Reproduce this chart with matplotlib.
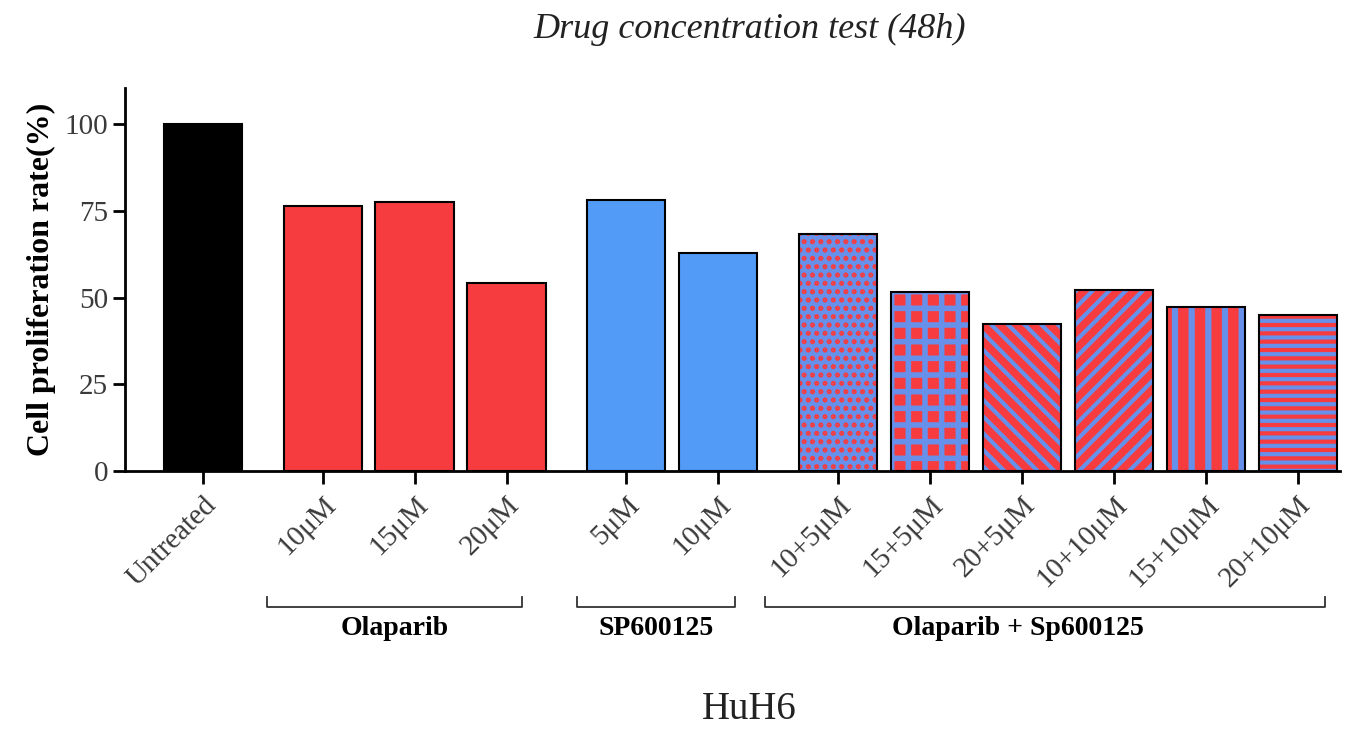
import matplotlib
matplotlib.use("Agg")
import matplotlib.pyplot as plt
import matplotlib.transforms as mtransforms

plt.rcParams['font.family'] = ['Liberation Serif', 'DejaVu Serif']

# data
groups = ["", "Olaparib", "SP600125", "Olaparib + Sp600125"]
group_labels = [["Untreated"],
                ["10\u03bcM", "15\u03bcM", "20\u03bcM"],
                ["5\u03bcM", "10\u03bcM"],
                ["10+5\u03bcM", "15+5\u03bcM", "20+5\u03bcM", "10+10\u03bcM", "15+10\u03bcM", "20+10\u03bcM"]]
group_values = [[100.0],
                [76.4, 77.5, 54.3],
                [78.1, 63.0],
                [68.3, 51.6, 42.5, 52.1, 47.4, 45.0]]

RED = "#F73C40"
BLUE = "#529BF7"
BLUE2 = "#6690EA"
solid_colors = ["black", RED, BLUE]
# combo bars: (face, hatch colour, hatch, hatch linewidth)
combo_styles = [(BLUE2, RED, "..", 2.4),
                (RED, BLUE2, "+", 4.0),
                (RED, BLUE2, "\\\\", 3.0),
                (RED, BLUE2, "//", 3.0),
                (RED, BLUE2, "|", 4.5),
                (RED, BLUE2, "--", 3.0)]

fig = plt.figure(figsize=(13.63, 7.31), dpi=100)
ax = fig.add_axes([0.0917, 0.3557, 0.8915, 0.5239])

width = 0.85
gap = 0.3
pos = 0.0
all_x, all_labels = [], []
group_x = []
for gi, (labs, vals) in enumerate(zip(group_labels, group_values)):
    xs = [pos + i for i in range(len(vals))]
    group_x.append(xs)
    if gi < 3:
        ax.bar(xs, vals, width, color=solid_colors[gi], edgecolor="black", linewidth=1.5, zorder=2)
    else:
        for x, v, (fc, hc, h, hlw) in zip(xs, vals, combo_styles):
            bars = ax.bar(x, v, width, color=fc, edgecolor=hc, hatch=h, linewidth=0, zorder=2)
            for b in bars:
                if hasattr(b, "set_hatch_linewidth"):
                    b.set_hatch_linewidth(hlw)
            ax.bar(x, v, width, fill=False, edgecolor="black", linewidth=1.5, zorder=3)
    all_x += xs
    all_labels += labs
    pos = xs[-1] + 1 + gap

ax.set_xlim(-0.848, 12.36)
ax.set_ylim(0, 110.5)
ax.set_yticks([0, 25, 50, 75, 100])
ax.set_xticks(all_x)
ax.set_xticklabels(all_labels, rotation=45, ha="right", va="top", rotation_mode="anchor")
ax.tick_params(axis="both", labelsize=21, labelcolor="#3a3a3a", width=2, length=9)
ax.tick_params(axis="x", pad=6)
ax.tick_params(axis="y", pad=3)

for s in ["top", "right"]:
    ax.spines[s].set_visible(False)
for s in ["left", "bottom"]:
    ax.spines[s].set_linewidth(2)

ax.set_ylabel("Cell proliferation rate(%)", fontsize=23, fontweight="bold", labelpad=6)

# group brackets below the tick labels
trans = mtransforms.blended_transform_factory(ax.transData, ax.transAxes)
starts = [0, 0.6, 0.53, 0.79]
ends = [0, 0.17, 0.18, 0.3]
label_shift = [0, 0.0, 0.0, -0.3]
for gi in range(1, len(groups)):
    xs = group_x[gi]
    x0 = xs[0] - starts[gi]
    x1 = xs[-1] + ends[gi]
    ax.plot([x0, x0, x1, x1], [-0.33, -0.355, -0.355, -0.33], color="#333333", lw=1.3,
            transform=trans, clip_on=False)
    ax.text((x0 + x1) / 2 + label_shift[gi], -0.41, groups[gi], transform=trans,
            ha="center", va="center", fontsize=20, fontweight="bold")

fig.text(0.55, 0.96, "Drug concentration test (48h)", ha="center", va="center",
         fontsize=26, style="italic", color="#222222")
fig.text(0.55, 0.03, "HuH6", ha="center", va="center", fontsize=28, color="#222222")

fig.savefig("out.png", dpi=100)
